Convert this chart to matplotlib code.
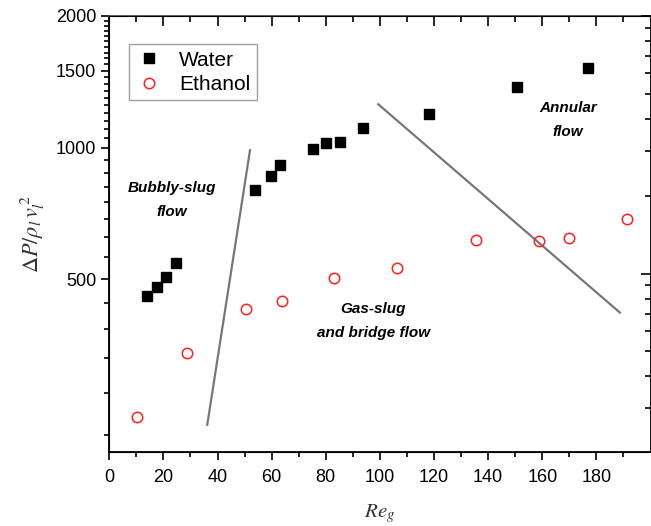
import matplotlib.pyplot as plt
from matplotlib.ticker import FixedLocator, NullFormatter, LogLocator

# datos
re_agua = [13.8, 17.5, 21.0, 24.6, 54.0, 59.6, 63.1, 75.3, 80.1, 85.3, 93.9, 118.3, 150.6, 177.0]
dp_agua = [457, 480, 506, 545, 800, 859, 911, 991, 1025, 1032, 1110, 1191, 1374, 1524]

re_etanol = [10.1, 28.6, 50.4, 63.7, 83.0, 106.2, 135.5, 158.8, 170.0, 191.2]
dp_etanol = [242, 338, 427, 446, 504, 530, 614, 611, 622, 687]

# lineas de transicion entre regimenes
re_linea1 = [36.2, 52.0]
dp_linea1 = [232, 986]
re_linea2 = [99.4, 188.7]
dp_linea2 = [1256, 419]

etiquetas_y = [500, 1000, 1500, 2000]

plt.rcParams['font.family'] = ['Liberation Sans', 'DejaVu Sans']
plt.rcParams['mathtext.fontset'] = 'stix'

fig = plt.figure(figsize=(6.51, 5.26), dpi=100)
ax = fig.add_axes([109.3 / 651, 1 - 452 / 526, (650.5 - 109.3) / 651, (452 - 16) / 526])

ax.plot(re_linea1, dp_linea1, color='#777777', lw=1.6, zorder=1)
ax.plot(re_linea2, dp_linea2, color='#777777', lw=1.6, zorder=1)
ax.plot(re_agua, dp_agua, 's', color='black', markersize=6.8, linestyle='none', label='Water', zorder=3)
ax.plot(re_etanol, dp_etanol, 'o', markerfacecolor='none', markeredgecolor='#ff2020',
        markeredgewidth=1.1, markersize=7.5, linestyle='none', label='Ethanol', zorder=3)

ax.set_yscale('log')
ax.set_xlim(0, 200)
ax.set_ylim(201, 2000)

ax.yaxis.set_major_locator(FixedLocator(etiquetas_y))
ax.yaxis.set_major_formatter(plt.FuncFormatter(lambda v, p: '%d' % v))
menores = [220, 275, 330, 385, 440] + [562.5 + 62.5 * i for i in range(7)] + \
          [1000 + 50 * i for i in range(1, 20) if 1000 + 50 * i != 1500]
ax.yaxis.set_minor_locator(FixedLocator(menores))
ax.yaxis.set_minor_formatter(NullFormatter())

ax.set_xticks(range(0, 181, 20))
ax.set_xticks(range(10, 200, 20), minor=True)

ax.tick_params(axis='both', which='major', labelsize=13, direction='out', length=6, width=1.2)
ax.tick_params(axis='both', which='minor', direction='out', length=3.5, width=1.2)
ax.tick_params(axis='x', which='major', pad=6)

for s in ax.spines.values():
    s.set_linewidth(1.3)
ax.spines['top'].set_color('#555555')

# eje superior con marcas hacia dentro
arriba = ax.secondary_xaxis('top')
arriba.set_xticks(range(0, 181, 20))
arriba.set_xticks(range(10, 200, 20), minor=True)
arriba.tick_params(which='major', direction='in', length=7, width=1.2, labeltop=False)
arriba.tick_params(which='minor', direction='in', length=4, width=1.2)
arriba.spines['top'].set_visible(False)

# eje derecho con marcas logaritmicas (sin etiquetas)
ax2 = ax.twinx()
ax2.set_yscale('log')
ax2.set_ylim(2.03, 100)
ax2.yaxis.set_major_locator(LogLocator(base=10))
ax2.yaxis.set_minor_locator(LogLocator(base=10, subs=range(2, 10)))
ax2.yaxis.set_major_formatter(NullFormatter())
ax2.yaxis.set_minor_formatter(NullFormatter())
ax2.tick_params(axis='y', which='major', direction='in', length=7, width=1.2)
ax2.tick_params(axis='y', which='minor', direction='in', length=4, width=1.2)
ax2.set_xlim(0, 200)

# textos de regimenes
estilo = dict(fontsize=11, fontweight='bold', style='italic', ha='center', va='center', linespacing=1.9)
ax.text(23.2, 760, 'Bubbly-slug\nflow', **estilo)
ax.text(97.6, 400, 'Gas-slug\nand bridge flow', **estilo)
ax.text(169.5, 1154, 'Annular\nflow', **estilo)

ax.set_xlabel(r'$Re_g$', fontsize=15, color='#333333', labelpad=12)
ax.set_ylabel(r'$\Delta P/\rho_l\, v_l^{\,2}$', fontsize=16, color='#333333', labelpad=6)

leg = ax.legend(loc='upper left', bbox_to_anchor=(0.037, 0.935), borderaxespad=0, fontsize=15,
                fancybox=False, edgecolor='#888888', handletextpad=0.8, borderpad=0.3,
                labelspacing=0.25, handlelength=1.3)
leg.get_frame().set_linewidth(1.0)

fig.savefig('out.png', dpi=100)
